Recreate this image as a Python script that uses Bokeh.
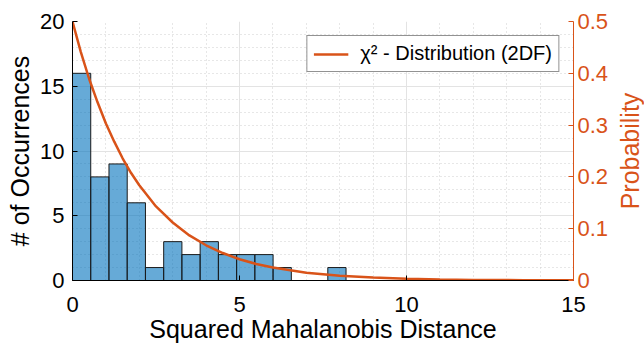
import math
import numpy as np
from bokeh.plotting import figure
from bokeh.layouts import row, column
from bokeh.core.properties import value
from bokeh.models import Range1d, LinearAxis, SingleIntervalTicker, Legend, LegendItem
from bokeh.embed import file_html
from bokeh.resources import INLINE

# Histogram of squared Mahalanobis distances
bin_width = 0.546
counts = [16, 8, 9, 6, 1, 3, 2, 3, 2, 2, 2, 1, 0, 0, 1]

# chi-square (2 DF) probability curve
curve_x = [0, 0.25, 0.5, 0.75, 1, 1.25, 1.5, 1.75, 2, 2.5, 3, 3.5, 4, 4.5, 5, 5.5,
           6, 7, 8, 9, 10, 11, 12, 13.5, 15]
curve_y = [0.5, 0.441, 0.389, 0.344, 0.303, 0.268, 0.236, 0.208, 0.184, 0.143,
           0.112, 0.087, 0.068, 0.053, 0.041, 0.032, 0.025, 0.015, 0.0092,
           0.0056, 0.0034, 0.0020, 0.0012, 0.0006, 0.0003]

x_label = "Squared Mahalanobis Distance"
y_label = "# of Occurrences"
y2_label = "Probability"
legend_label = "\u03c7\u00b2 - Distribution (2DF)"

x_ticks_interval = 5
left_ticks_interval = 5
right_ticks_interval = 0.1

FONT = "Liberation Sans"
ORANGE = "#D95319"
BLUE = "#0072BD"
DARK = "#000000"

p = figure(width=614, height=315, x_range=Range1d(0, 15), y_range=Range1d(0, 20),
           output_backend="svg", toolbar_location=None,
           min_border_left=72, min_border_right=41, min_border_top=21, min_border_bottom=35)
p.outline_line_color = None
p.background_fill_color = "white"

edges = np.arange(len(counts) + 1) * bin_width
p.quad(left=edges[:-1], right=edges[1:], bottom=0, top=counts,
       fill_color=BLUE, fill_alpha=0.6, line_color="#1a1a1a", line_width=1)

p.extra_y_ranges = {"prob": Range1d(0, 0.5)}
r = p.line(curve_x, curve_y, y_range_name="prob", line_color=ORANGE, line_width=2.5)

# axes
xa = p.xaxis[0]
xa.ticker = SingleIntervalTicker(interval=x_ticks_interval, num_minor_ticks=5)
ya = p.yaxis[0]
ya.ticker = SingleIntervalTicker(interval=left_ticks_interval, num_minor_ticks=5)

for ax in (xa, ya):
    ax.axis_line_color = DARK
    ax.major_tick_line_color = DARK
    ax.minor_tick_line_color = DARK
    ax.major_tick_in = 5
    ax.major_tick_out = 0
    ax.minor_tick_in = 0
    ax.minor_tick_out = 0
    ax.major_label_text_font = FONT
    ax.major_label_text_font_size = "22px"
    ax.major_label_text_color = DARK
    ax.axis_label_text_font = FONT
    ax.axis_label_text_font_size = "25px"
    ax.axis_label_text_font_style = "normal"
    ax.axis_label_text_color = DARK

xa.major_label_standoff = 16
ya.axis_label = y_label
ya.major_label_standoff = 8
ya.axis_label_standoff = 3

ra = LinearAxis(y_range_name="prob",
                ticker=SingleIntervalTicker(interval=right_ticks_interval, num_minor_ticks=0))
ra.axis_line_color = ORANGE
ra.major_tick_line_color = ORANGE
ra.major_tick_in = 5
ra.major_tick_out = 0
ra.minor_tick_in = 0
ra.minor_tick_out = 0
ra.major_label_text_font = FONT
ra.major_label_text_font_size = "22px"
ra.major_label_text_color = ORANGE
ra.major_label_standoff = 4
p.add_layout(ra, "right")

# grids
for g in (p.xgrid[0], p.ygrid[0]):
    g.grid_line_color = "#e3e3e3"
    g.grid_line_width = 1
    g.minor_grid_line_color = "#cfcfcf"
    g.minor_grid_line_dash = "1 3"
    g.minor_grid_line_width = 1

legend = Legend(items=[LegendItem(label=legend_label, renderers=[r])], location="top_right")
legend.label_text_font = FONT
legend.label_text_font_size = "20px"
legend.label_text_color = DARK
legend.border_line_color = "#262626"
legend.border_line_width = 1
legend.background_fill_color = "white"
legend.background_fill_alpha = 1
legend.glyph_width = 35
legend.label_standoff = 12
legend.padding = 6
legend.spacing = 0
legend.margin = 14
p.add_layout(legend, "center")

# narrow side strip carrying the right-hand axis title (reads bottom to top)
p2 = figure(width=30, height=315, x_range=Range1d(0, 1), y_range=Range1d(0, 20),
            output_backend="svg", toolbar_location=None,
            min_border_left=0, min_border_right=0, min_border_top=21, min_border_bottom=35)
p2.outline_line_color = None
p2.axis.visible = False
p2.grid.visible = False
p2.text(x=[0.53], y=[10], text=[y2_label], angle=math.pi / 2,
        text_font=value(FONT), text_font_size=value("25px"), text_color=ORANGE,
        text_align="center", text_baseline="middle")

# strip below carrying the x-axis title
p3 = figure(width=644, height=30, x_range=Range1d(0, 15), y_range=Range1d(0, 1),
            output_backend="svg", toolbar_location=None,
            min_border_left=72, min_border_right=71, min_border_top=0, min_border_bottom=0)
p3.outline_line_color = None
p3.axis.visible = False
p3.grid.visible = False
p3.text(x=[7.5], y=[0.55], text=[x_label],
        text_font=value(FONT), text_font_size=value("25px"), text_color=DARK,
        text_align="center", text_baseline="middle")

layout = column(row(p, p2), p3)
open("out.html", "w").write(file_html(layout, INLINE))
